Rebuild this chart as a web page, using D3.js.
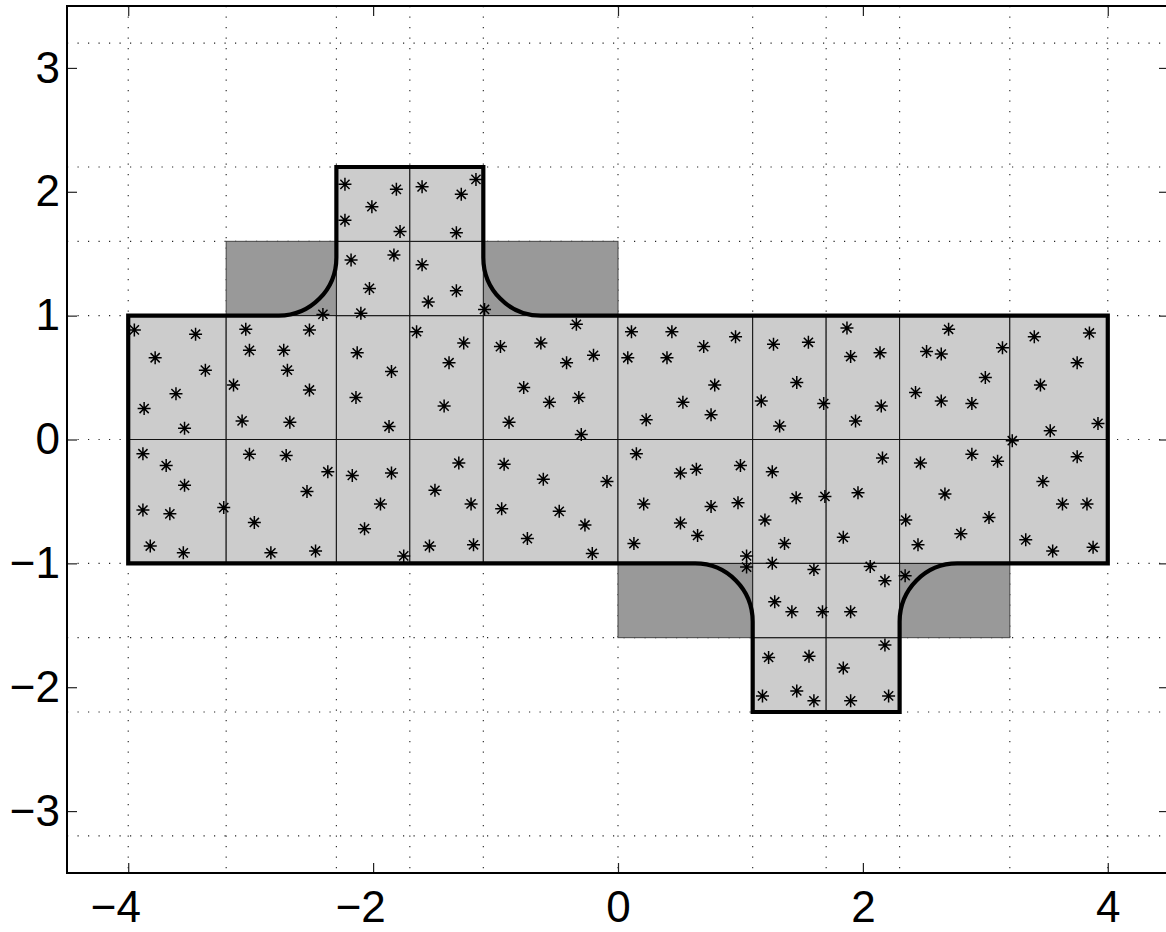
<!DOCTYPE html>
<html>
<head>
<meta charset="utf-8">
<script src="https://cdn.jsdelivr.net/npm/d3@7"></script>
<style>
body { margin: 0; background: #fff; }
svg { display: block; }
text { font-family: "Liberation Sans", Arial, Helvetica, sans-serif; }
</style>
</head>
<body>
<svg id="mainsvg" width="1166" height="932"></svg>
<script>
// mesh break points
const mainX = [-4, -3.2, -2.3, -1.7, -1.1, 0, 1.1, 1.7, 2.3, 3.2, 4];
const mainY = [-1, 0, 1];
const topTabX = [-2.3, -1.7, -1.1];
const topTabY = [1, 1.6, 2.2];
const bottomTabX = [1.1, 1.7, 2.3];
const bottomTabY = [-2.2, -1.6, -1];
// darker blocks behind the fillets: [x0, x1, y0, y1]
const darkBlocks = [[-3.2, 0, 1, 1.6], [0, 3.2, -1.6, -1]];
const filletR = 0.47;

const gridX = mainX;
const gridY = [-3.2, -2.2, -1.6, -1, 0, 1, 1.6, 2.2, 3.2];
const xTicks = [-4, -2, 0, 2, 4];
const yTicks = [-3, -2, -1, 0, 1, 2, 3];

// sample points
const stars = [
  [-2.23, 2.06], [-1.81, 2.02], [-2.01, 1.88], [-2.23, 1.77], [-1.78, 1.68], [-1.60, 2.04], [-1.28, 1.98], [-1.16, 2.10], [-1.32, 1.67],
  [-2.18, 1.45], [-1.83, 1.49], [-2.03, 1.22], [-2.10, 1.02], [-1.60, 1.41], [-1.32, 1.20], [-1.55, 1.11], [-1.09, 1.05], [-2.41, 1.01],
  [-3.95, 0.885], [-3.45, 0.85], [-3.78, 0.66], [-3.37, 0.56], [-3.61, 0.37], [-3.87, 0.25], [-3.54, 0.09],
  [-3.04, 0.89], [-2.52, 0.885], [-3.01, 0.72], [-2.73, 0.72], [-2.70, 0.56], [-3.14, 0.44], [-2.52, 0.40], [-3.07, 0.15], [-2.68, 0.14],
  [-2.13, 0.70], [-1.85, 0.55], [-2.14, 0.34], [-1.87, 0.105],
  [-1.645, 0.87], [-1.26, 0.78], [-1.38, 0.62], [-1.42, 0.27],
  [-0.34, 0.93], [-0.96, 0.75], [-0.63, 0.78], [-0.20, 0.68], [-0.42, 0.62], [-0.77, 0.42], [-0.32, 0.34], [-0.56, 0.30], [-0.89, 0.14], [-0.30, 0.04],
  [0.11, 0.87], [0.44, 0.87], [0.96, 0.83], [0.70, 0.75], [0.08, 0.66], [0.40, 0.66], [0.79, 0.44], [0.53, 0.30], [0.76, 0.20], [0.23, 0.16],
  [1.27, 0.77], [1.46, 0.46], [1.17, 0.31], [1.32, 0.11], [1.555, 0.785], [1.68, 0.29],
  [1.87, 0.90], [1.90, 0.67], [2.14, 0.70], [2.15, 0.27], [1.94, 0.15],
  [2.70, 0.89], [2.52, 0.71], [2.64, 0.69], [3.14, 0.74], [3.00, 0.50], [2.43, 0.38], [2.64, 0.31], [2.89, 0.29],
  [3.40, 0.83], [3.85, 0.86], [3.75, 0.62], [3.45, 0.44], [3.53, 0.07], [3.92, 0.13], [3.22, -0.01],
  [-3.88, -0.115], [-3.69, -0.21], [-3.54, -0.37], [-3.88, -0.57], [-3.66, -0.60], [-3.82, -0.86], [-3.55, -0.915], [-3.22, -0.55],
  [-3.01, -0.12], [-2.71, -0.13], [-2.37, -0.26], [-2.54, -0.42], [-2.97, -0.67], [-2.835, -0.915], [-2.47, -0.90],
  [-2.17, -0.29], [-1.85, -0.27], [-1.94, -0.52], [-2.07, -0.72], [-1.75, -0.94],
  [-1.30, -0.19], [-1.495, -0.41], [-1.20, -0.52], [-1.54, -0.86], [-1.18, -0.85],
  [-0.93, -0.20], [-0.61, -0.32], [-0.09, -0.34], [-0.95, -0.56], [-0.48, -0.58], [-0.27, -0.69], [-0.74, -0.80], [-0.21, -0.92],
  [0.15, -0.115], [0.51, -0.27], [0.64, -0.24], [1.00, -0.21], [0.21, -0.52], [0.76, -0.54], [0.98, -0.51], [0.51, -0.675], [0.65, -0.775], [0.13, -0.84], [1.05, -0.94], [1.05, -1.03],
  [1.26, -0.26], [1.455, -0.47], [1.20, -0.65], [1.36, -0.84], [1.26, -1.00], [1.69, -0.46], [1.96, -0.43], [1.84, -0.79],
  [2.16, -0.15], [2.47, -0.19], [2.89, -0.12], [3.10, -0.175], [2.67, -0.44], [2.35, -0.65], [3.03, -0.63], [2.80, -0.76], [2.45, -0.85],
  [3.75, -0.14], [3.47, -0.34], [3.63, -0.52], [3.83, -0.52], [3.33, -0.81], [3.55, -0.90], [3.88, -0.87],
  [1.60, -1.05], [2.06, -1.025], [2.18, -1.14], [2.345, -1.10],
  [1.28, -1.31], [1.42, -1.39], [1.67, -1.39], [1.90, -1.39], [2.18, -1.66], [1.23, -1.76], [1.56, -1.75], [1.84, -1.845],
  [1.18, -2.07], [1.46, -2.03], [1.60, -2.11], [1.90, -2.11], [2.21, -2.07]
];

const svg = d3.select('#mainsvg');
const width = +svg.attr('width');
const height = +svg.attr('height');
const margin = { top: 6, right: -3, bottom: 59, left: 67 };

const x = d3.scaleLinear().domain([-4.5, 4.5]).range([margin.left, width - margin.right]);
const y = d3.scaleLinear().domain([-3.5, 3.5]).range([height - margin.bottom, margin.top]);

svg.append('rect').attr('width', width).attr('height', height).attr('fill', '#fff');

// dotted grid
const grid = svg.append('g').attr('stroke', '#222').attr('stroke-width', 1.1).attr('stroke-dasharray', '1.2,9.3');
grid.selectAll('.gx').data(gridX).join('line').attr('class', 'gx')
  .attr('x1', d => x(d)).attr('x2', d => x(d)).attr('y1', y(3.5)).attr('y2', y(-3.5));
grid.selectAll('.gy').data(gridY).join('line').attr('class', 'gy')
  .attr('y1', d => y(d)).attr('y2', d => y(d)).attr('x1', x(-4.5)).attr('x2', x(4.5));

// dark blocks
svg.selectAll('.dark').data(darkBlocks).join('rect').attr('class', 'dark')
  .attr('x', d => x(d[0])).attr('y', d => y(d[3]))
  .attr('width', d => x(d[1]) - x(d[0])).attr('height', d => y(d[2]) - y(d[3]))
  .attr('fill', '#999').attr('stroke', '#444').attr('stroke-width', 1);

// light cells
function cellsOf(xs, ys) {
  const out = [];
  for (let i = 0; i < xs.length - 1; i++)
    for (let j = 0; j < ys.length - 1; j++)
      out.push([xs[i], xs[i + 1], ys[j], ys[j + 1]]);
  return out;
}
const cells = cellsOf(mainX, mainY).concat(cellsOf(topTabX, topTabY), cellsOf(bottomTabX, bottomTabY));
svg.selectAll('.cell').data(cells).join('rect').attr('class', 'cell')
  .attr('x', d => x(d[0])).attr('y', d => y(d[3]))
  .attr('width', d => x(d[1]) - x(d[0])).attr('height', d => y(d[2]) - y(d[3]))
  .attr('fill', '#ccc').attr('stroke', '#111').attr('stroke-width', 1);

// thick outline with fillets
const rx = x(filletR) - x(0);
const ry = y(0) - y(filletR);
const arc = (px, py) => `A${rx},${ry} 0 0 0 ${x(px)},${y(py)}`;
const outline = [
  `M${x(-4)},${y(-1)}`, `L${x(-4)},${y(1)}`,
  `L${x(-2.3 - filletR)},${y(1)}`, arc(-2.3, 1 + filletR),
  `L${x(-2.3)},${y(2.2)}`, `L${x(-1.1)},${y(2.2)}`,
  `L${x(-1.1)},${y(1 + filletR)}`, arc(-1.1 + filletR, 1),
  `L${x(4)},${y(1)}`, `L${x(4)},${y(-1)}`,
  `L${x(2.3 + filletR)},${y(-1)}`, arc(2.3, -1 - filletR),
  `L${x(2.3)},${y(-2.2)}`, `L${x(1.1)},${y(-2.2)}`,
  `L${x(1.1)},${y(-1 - filletR)}`, arc(1.1 - filletR, -1),
  'Z'
].join('');
svg.append('path').attr('d', outline).attr('fill', 'none')
  .attr('stroke', '#000').attr('stroke-width', 4.2).attr('stroke-linejoin', 'miter');

// asterisk markers
const s = 6.5, k = 4.6;
const star = `M${-s},0H${s}M0,${-s}V${s}M${-k},${-k}L${k},${k}M${-k},${k}L${k},${-k}`;
svg.selectAll('.star').data(stars).join('path').attr('class', 'star')
  .attr('transform', d => `translate(${x(d[0])},${y(d[1])})`)
  .attr('d', star).attr('stroke', '#000').attr('stroke-width', 1.5).attr('fill', 'none');

// axes
const fmt = d => (d < 0 ? '\u2212' : '') + Math.abs(d);
const fontSize = 44;
const digitW = 0.556 * fontSize;

const xAxis = svg.append('g').attr('transform', `translate(0,${y(-3.5)})`)
  .call(d3.axisBottom(x).tickValues(xTicks).tickSize(-10).tickSizeOuter(0).tickPadding(18).tickFormat(fmt));
xAxis.selectAll('text').attr('text-anchor', 'end').attr('x', digitW / 2);

const xTop = svg.append('g').attr('transform', `translate(0,${y(3.5)})`)
  .call(d3.axisTop(x).tickValues(xTicks).tickSize(-10).tickSizeOuter(0).tickFormat(''));

const yAxis = svg.append('g').attr('transform', `translate(${x(-4.5)},0)`)
  .call(d3.axisLeft(y).tickValues(yTicks).tickSize(-10).tickSizeOuter(0).tickPadding(7).tickFormat(fmt));

const yRight = svg.append('g').attr('transform', `translate(${x(4.5)},0)`)
  .call(d3.axisRight(y).tickValues(yTicks).tickSize(-10).tickSizeOuter(0).tickFormat(''));

[xAxis, xTop, yAxis, yRight].forEach(a => {
  a.select('.domain').remove();
  a.selectAll('line').attr('stroke', '#222').attr('stroke-width', 1.2);
  a.selectAll('text').attr('font-size', fontSize).attr('fill', '#000')
    .attr('font-family', '"Liberation Sans", Arial, Helvetica, sans-serif');
});

// axes box
svg.append('rect')
  .attr('x', x(-4.5)).attr('y', y(3.5))
  .attr('width', x(4.5) - x(-4.5)).attr('height', y(-3.5) - y(3.5))
  .attr('fill', 'none').attr('stroke', '#000').attr('stroke-width', 2);
</script>
</body>
</html>
